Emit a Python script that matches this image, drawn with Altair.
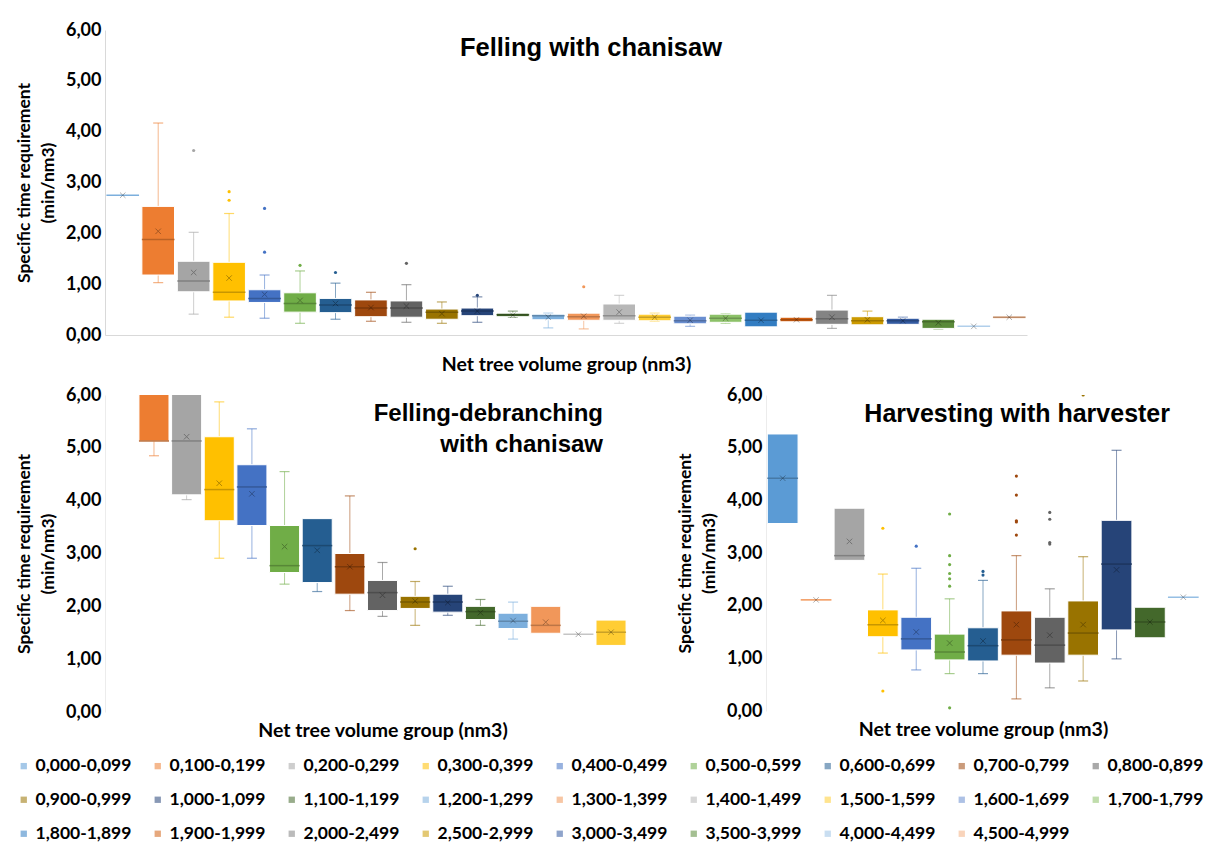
import altair as alt
import pandas as pd

GROUPS = ["0,000-0,099", "0,100-0,199", "0,200-0,299", "0,300-0,399", "0,400-0,499",
          "0,500-0,599", "0,600-0,699", "0,700-0,799", "0,800-0,899", "0,900-0,999",
          "1,000-1,099", "1,100-1,199", "1,200-1,299", "1,300-1,399", "1,400-1,499",
          "1,500-1,599", "1,600-1,699", "1,700-1,799", "1,800-1,899", "1,900-1,999",
          "2,000-2,499", "2,500-2,999", "3,000-3,499", "3,500-3,999", "4,000-4,499",
          "4,500-4,999"]
COLORS = ["#5B9BD5", "#ED7D31", "#A5A5A5", "#FFC000", "#4472C4", "#70AD47", "#255E91",
          "#9E480E", "#636363", "#997300", "#264478", "#43682B", "#7CAFDD", "#F1975A",
          "#B7B7B7", "#FFCD33", "#698ED0", "#8CC168", "#327DC2", "#D26012", "#848484",
          "#CC9A00", "#335AA1", "#5A8A39", "#9DC3E6", "#F4B183"]

# ---- Felling with chainsaw (all 26 groups)
TOP_GROUPS = GROUPS
TOP_LO = [2.75, 1.03, 0.41, 0.35, 0.33, 0.23, 0.31, 0.27, 0.25, 0.23, 0.25, 0.35, 0.14,
          0.12, 0.23, 0.27, 0.17, 0.23, 0.16, 0.26, 0.13, 0.20, 0.21, 0.12, 0.17, 0.32]
TOP_Q1 = [2.75, 1.18, 0.85, 0.67, 0.64, 0.45, 0.44, 0.36, 0.35, 0.31, 0.38, 0.36, 0.30,
          0.29, 0.29, 0.28, 0.22, 0.25, 0.16, 0.26, 0.21, 0.20, 0.21, 0.13, 0.17, 0.32]
TOP_MED = [2.75, 1.88, 1.06, 0.84, 0.72, 0.62, 0.59, 0.53, 0.53, 0.45, 0.47, 0.40, 0.38,
           0.36, 0.38, 0.35, 0.28, 0.33, 0.29, 0.30, 0.32, 0.28, 0.28, 0.26, 0.17, 0.35]
TOP_Q3 = [2.75, 2.53, 1.45, 1.43, 0.89, 0.83, 0.72, 0.69, 0.67, 0.51, 0.53, 0.43, 0.41,
          0.43, 0.61, 0.41, 0.37, 0.41, 0.45, 0.35, 0.49, 0.36, 0.33, 0.31, 0.17, 0.37]
TOP_HI = [2.75, 4.17, 2.02, 2.39, 1.18, 1.26, 1.02, 0.84, 0.99, 0.65, 0.75, 0.47, 0.43,
          0.43, 0.78, 0.43, 0.39, 0.42, 0.45, 0.35, 0.78, 0.47, 0.35, 0.31, 0.17, 0.37]
TOP_MEAN = [2.75, 2.04, 1.23, 1.12, 0.80, 0.68, 0.62, 0.54, 0.57, 0.42, 0.47, 0.39, 0.35,
            0.37, 0.45, 0.35, 0.29, 0.33, 0.29, 0.30, 0.35, 0.30, 0.28, 0.24, 0.17, 0.35]
TOP_OUT = [[], [], [3.63], [2.65, 2.82], [1.63, 2.49], [1.37], [1.23], [], [1.41], [],
           [0.78], [], [], [0.95], [], [], [], [], [], [], [], [], [], [], [], []]

# ---- Felling-debranching with chainsaw (groups 0,100 .. 1,500)
BL_DOMAIN = GROUPS[:17]
BL_GROUPS = GROUPS[1:16]
BL_LO = [4.85, 4.02, 2.91, 2.91, 2.42, 2.28, 1.92, 1.81, 1.64, 1.83, 1.64, 1.38, 1.49, 1.47, 1.26]
BL_Q1 = [5.13, 4.11, 3.62, 3.53, 2.64, 2.45, 2.23, 1.92, 1.96, 1.89, 1.75, 1.58, 1.49, 1.47, 1.26]
BL_MED = [5.13, 5.13, 4.21, 4.26, 2.77, 3.15, 2.75, 2.26, 2.08, 2.08, 1.90, 1.72, 1.64, 1.47, 1.51]
BL_Q3 = [6.40, 6.50, 5.21, 4.68, 3.53, 3.66, 3.00, 2.49, 2.19, 2.23, 2.00, 1.87, 2.00, 1.47, 1.74]
BL_HI = [6.80, 6.90, 5.87, 5.36, 4.55, 3.66, 4.09, 2.83, 2.47, 2.38, 2.13, 2.08, 2.00, 1.47, 1.74]
BL_MEAN = [6.20, 5.21, 4.33, 4.13, 3.13, 3.06, 2.75, 2.21, 2.10, 2.07, 1.88, 1.73, 1.70, 1.47, 1.51]
BL_OUT = [[], [], [], [], [], [], [], [], [3.09], [], [], [], [], [], []]

# ---- Harvesting with harvester (groups 0,000 .. 1,200)
BR_DOMAIN = GROUPS[:13]
BR_GROUPS = GROUPS[:13]
BR_LO = [3.56, 2.11, 2.86, 1.10, 0.78, 0.71, 0.71, 0.23, 0.44, 0.57, 0.99, 1.39, 2.16]
BR_Q1 = [3.56, 2.11, 2.86, 1.41, 1.16, 0.97, 0.95, 1.06, 0.91, 1.06, 1.54, 1.39, 2.16]
BR_MED = [4.42, 2.11, 2.95, 1.64, 1.37, 1.12, 1.24, 1.35, 1.25, 1.48, 2.79, 1.69, 2.16]
BR_Q3 = [5.26, 2.11, 3.85, 1.92, 1.78, 1.46, 1.58, 1.90, 1.78, 2.09, 3.62, 1.97, 2.16]
BR_HI = [5.26, 2.11, 3.85, 2.60, 2.71, 2.13, 2.48, 2.95, 2.32, 2.93, 4.95, 1.97, 2.16]
BR_MEAN = [4.42, 2.11, 3.22, 1.72, 1.50, 1.29, 1.33, 1.64, 1.44, 1.64, 2.68, 1.69, 2.16]
BR_OUT = [[], [], [], [0.38, 3.47], [3.13], [0.06, 2.37, 2.51, 2.61, 2.78, 2.95, 3.74],
          [2.58, 2.65], [3.34, 3.59, 3.61, 4.10, 4.46], [3.17, 3.20, 3.64, 3.77], [6.0],
          [], [], []]

Y_TICKS = [0, 1, 2, 3, 4, 5, 6]
PI, PO = 0.08, 0.04
LABEL_FONT = "Lato"
TITLE_FONT = "Liberation Sans"

LEGEND = alt.Legend(
    title=None, orient="none", legendX=-90, legendY=727, direction="horizontal",
    columns=9, symbolType="square", symbolSize=40, symbolStrokeWidth=0,
    labelFont=LABEL_FONT, labelFontSize=17.5, labelFontWeight="bold", labelColor="black",
    columnPadding=17, rowPadding=15, labelLimit=300, gridAlign="all", labelOffset=3,
)


def panel(domain, groups, lo, q1, med, q3, hi, mean, outl, width, height,
          title, tsize, anchor, tdx, toff, xpad, xdomain, ydomcolor):
    box = pd.DataFrame(dict(g=groups, lo=lo, q1=q1, med=med, q3=q3, hi=hi, mean=mean))
    outs = pd.DataFrame([(g, v) for g, vs in zip(groups, outl) for v in vs],
                        columns=["g", "v"])
    step = width / (len(domain) - PI + 2 * PO)
    bw = step * (1 - PI)

    xaxis = alt.Axis(labels=False, ticks=False, grid=False, domain=xdomain,
                     domainColor="#d9d9d9", title="Net tree volume group (nm3)",
                     titleFont=LABEL_FONT, titleFontSize=19.5, titleFontWeight="bold",
                     titleColor="black", titlePadding=xpad)
    yaxis = alt.Axis(values=Y_TICKS, labelExpr="replace(format(datum.value, '.2f'), '.', ',')",
                     title=["Specific time requirement", "(min/nm3)"],
                     titleFont=LABEL_FONT, titleFontSize=17.5, titleFontWeight="bold",
                     titleColor="black", titleLineHeight=24, titlePadding=8,
                     labelFont=LABEL_FONT, labelFontSize=18, labelFontWeight="bold",
                     labelColor="black", labelPadding=4, ticks=False, grid=False,
                     domainColor=ydomcolor)
    xs = alt.Scale(type="band", domain=domain, paddingInner=PI, paddingOuter=PO)
    ys = alt.Scale(domain=[0, 6], nice=False)
    x = alt.X("g:N", scale=xs, axis=xaxis)
    color = alt.Color("g:N", scale=alt.Scale(domain=GROUPS, range=COLORS), legend=LEGEND)

    def Y(f):
        return alt.Y(f + ":Q", scale=ys, axis=yaxis)

    base = alt.Chart(box)
    low_w = base.transform_filter("datum.lo < datum.q1").mark_rule(
        strokeWidth=1, opacity=0.55, clip=True).encode(x=x, y=Y("lo"), y2="q1:Q", color=color)
    up_w = base.transform_filter("datum.hi > datum.q3").mark_rule(
        strokeWidth=1, opacity=0.55, clip=True).encode(x=x, y=Y("q3"), y2="hi:Q", color=color)
    low_c = base.transform_filter("datum.lo < datum.q1").mark_tick(
        size=10, thickness=1.2, opacity=0.6, clip=True, orient="horizontal").encode(
        x=x, y=Y("lo"), color=color)
    up_c = base.transform_filter("datum.hi > datum.q3").mark_tick(
        size=10, thickness=1.2, opacity=0.6, clip=True, orient="horizontal").encode(
        x=x, y=Y("hi"), color=color)
    boxes = base.mark_bar(stroke="white", strokeWidth=1, clip=True).encode(
        x=x, y=Y("q1"), y2="q3:Q", color=color)
    med_t = base.mark_tick(size=bw, thickness=1.5, opacity=0.8, clip=True,
                           orient="horizontal").encode(x=x, y=Y("med"), color=color)
    med_d = base.transform_filter("datum.q3 > datum.q1").mark_tick(
        size=bw, thickness=1.5, color="black", opacity=0.22, clip=True,
        orient="horizontal").encode(x=x, y=Y("med"))
    mean_p = base.mark_point(shape="M-1,-1L1,1M1,-1L-1,1", filled=False, size=30,
                             strokeWidth=1, color="black", opacity=0.3, clip=True).encode(
        x=x, y=Y("mean"))
    out_p = alt.Chart(outs).mark_circle(size=10, opacity=1, clip=True).encode(
        x=x, y=Y("v"), color=color)

    return alt.layer(low_w, up_w, low_c, up_c, boxes, med_t, med_d, mean_p, out_p).properties(
        width=width, height=height,
        title=alt.TitleParams(text=title, anchor=anchor, frame="group", font=TITLE_FONT,
                              fontSize=tsize, fontWeight="bold", color="black",
                              offset=toff, lineHeight=31, dx=tdx),
    )


top = panel(GROUPS, TOP_GROUPS, TOP_LO, TOP_Q1, TOP_MED, TOP_Q3, TOP_HI, TOP_MEAN, TOP_OUT,
            922, 305, "Felling with chanisaw", 25.5, "middle", 25, -40, 20, True, "#d9d9d9")
bl = panel(BL_DOMAIN, BL_GROUPS, BL_LO, BL_Q1, BL_MED, BL_Q3, BL_HI, BL_MEAN, BL_OUT,
           555, 317, ["Felling-debranching", "with chanisaw"], 24, "end", -57, -71, 9,
           False, "#ececec")
br = panel(BR_DOMAIN, BR_GROUPS, BR_LO, BR_Q1, BR_MED, BR_Q3, BR_HI, BR_MEAN, BR_OUT,
           434, 316, "Harvesting with harvester", 25, "end", -30, -41, 9, False, "#ececec")

chart = alt.vconcat(top, alt.hconcat(bl, br, spacing=16), spacing=12).resolve_scale(
    color="shared").properties(
    padding={"left": 15, "top": 21, "right": 0, "bottom": 0},
    background="white",
).configure_view(stroke=None)

chart.save("out.html", embed_options={"renderer": "svg", "actions": False})
